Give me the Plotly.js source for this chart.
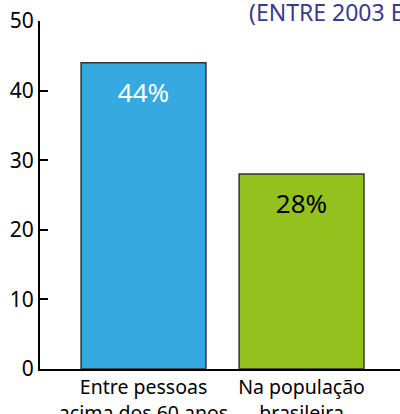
<!DOCTYPE html>
<html>
<head>
<meta charset="utf-8">
<script src="https://cdn.plot.ly/plotly-3.0.1.min.js"></script>
<style>html,body{margin:0;padding:0;background:#fff;}#chart{width:400px;height:414px;}</style>
</head>
<body>
<div id="chart"></div>
<script>
const categories = ["Entre pessoas<br>acima dos 60 anos", "Na população<br>brasileira"];
const values = [44, 28];
const labels = ["44%", "28%"];
const barColors = ["#36a9e1", "#95c11f"];
const labelColors = ["#ffffff", "#000000"];
const titleText = "(ENTRE 2003 E 2013)";
const yTicks = [0, 10, 20, 30, 40, 50];

const FONT = "Noto Sans, Open Sans, sans-serif";

const bars = {
  type: "bar",
  x: categories,
  y: values,
  width: 0.79,
  marker: {color: barColors, line: {color: "#333333", width: 1.5}},
  hoverinfo: "none",
  showlegend: false
};

const textTrace = {
  type: "scatter",
  mode: "text",
  x: categories,
  y: values.map(v => v - 4.7),
  text: labels,
  textfont: {family: FONT, size: 26, color: labelColors},
  hoverinfo: "none",
  showlegend: false
};

const layout = {
  width: 400, height: 414,
  margin: {l: 40, r: 0, t: 21, b: 45},
  paper_bgcolor: "#ffffff", plot_bgcolor: "#ffffff",
  font: {family: FONT, size: 19, color: "#000000"},
  title: {text: titleText, x: 249/400, xanchor: "left", xref: "container", y: 1 - 13/414, yanchor: "middle", yref: "container",
          font: {family: FONT, size: 23, color: "#3b3a8c"}},
  xaxis: {
    type: "category",
    range: [-0.655, 1.623],
    showline: true, linecolor: "#000000", linewidth: 2,
    ticks: "", showgrid: false, zeroline: false,
    tickfont: {family: FONT, size: 19.5, color: "#000000"},
    fixedrange: true
  },
  yaxis: {
    range: [0, 50],
    tickvals: yTicks,
    showline: true, linecolor: "#000000", linewidth: 2,
    ticks: "inside", ticklen: 8, tickwidth: 2, tickcolor: "#000000",
    showgrid: false, zeroline: false,
    tickfont: {family: FONT, size: 21, color: "#000000"},
    fixedrange: true
  }
};

Plotly.newPlot("chart", [bars, textTrace], layout, {displayModeBar: false, staticPlot: true});
</script>
</body>
</html>
